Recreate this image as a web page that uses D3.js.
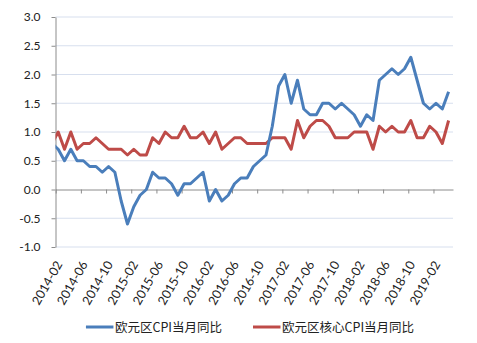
<!DOCTYPE html>
<html>
<head>
<meta charset="utf-8">
<script src="https://cdn.jsdelivr.net/npm/d3@7"></script>
<style>
  html, body { margin: 0; padding: 0; background: #fff; }
  svg { display: block; }
</style>
</head>
<body>
<script>
// Monthly categories, 2014-01 .. 2019-04
const months = [
  "2014-01","2014-02","2014-03","2014-04","2014-05","2014-06","2014-07","2014-08","2014-09","2014-10","2014-11","2014-12",
  "2015-01","2015-02","2015-03","2015-04","2015-05","2015-06","2015-07","2015-08","2015-09","2015-10","2015-11","2015-12",
  "2016-01","2016-02","2016-03","2016-04","2016-05","2016-06","2016-07","2016-08","2016-09","2016-10","2016-11","2016-12",
  "2017-01","2017-02","2017-03","2017-04","2017-05","2017-06","2017-07","2017-08","2017-09","2017-10","2017-11","2017-12",
  "2018-01","2018-02","2018-03","2018-04","2018-05","2018-06","2018-07","2018-08","2018-09","2018-10","2018-11","2018-12",
  "2019-01","2019-02","2019-03","2019-04"
];

// Euro area HICP, y/y %
const cpi = [
  0.8, 0.7, 0.5, 0.7, 0.5, 0.5, 0.4, 0.4, 0.3, 0.4, 0.3, -0.2,
  -0.6, -0.3, -0.1, 0.0, 0.3, 0.2, 0.2, 0.1, -0.1, 0.1, 0.1, 0.2,
  0.3, -0.2, 0.0, -0.2, -0.1, 0.1, 0.2, 0.2, 0.4, 0.5, 0.6, 1.1,
  1.8, 2.0, 1.5, 1.9, 1.4, 1.3, 1.3, 1.5, 1.5, 1.4, 1.5, 1.4,
  1.3, 1.1, 1.3, 1.2, 1.9, 2.0, 2.1, 2.0, 2.1, 2.3, 1.9, 1.5,
  1.4, 1.5, 1.4, 1.7
];

// Euro area core HICP, y/y %
const coreCpi = [
  0.8, 1.0, 0.7, 1.0, 0.7, 0.8, 0.8, 0.9, 0.8, 0.7, 0.7, 0.7,
  0.6, 0.7, 0.6, 0.6, 0.9, 0.8, 1.0, 0.9, 0.9, 1.1, 0.9, 0.9,
  1.0, 0.8, 1.0, 0.7, 0.8, 0.9, 0.9, 0.8, 0.8, 0.8, 0.8, 0.9,
  0.9, 0.9, 0.7, 1.2, 0.9, 1.1, 1.2, 1.2, 1.1, 0.9, 0.9, 0.9,
  1.0, 1.0, 1.0, 0.7, 1.1, 1.0, 1.1, 1.0, 1.0, 1.2, 0.9, 0.9,
  1.1, 1.0, 0.8, 1.2
];

const yTicks = [-1.0, -0.5, 0.0, 0.5, 1.0, 1.5, 2.0, 2.5, 3.0];
const xTickLabels = [
  "2014-02","2014-06","2014-10","2015-02","2015-06","2015-10","2016-02","2016-06",
  "2016-10","2017-02","2017-06","2017-10","2018-02","2018-06","2018-10","2019-02"
];
const seriesNames = ["欧元区CPI当月同比", "欧元区核心CPI当月同比"];
const seriesColors = ["#4A7EBB", "#BE4B48"];

const W = 477, H = 343;
const plot = { left: 55.5, right: 453, top: 17, bottom: 247 };

// Month-index axis: it opens a little after the first month and ends a little after the last
const axisStart = 0.57, axisEnd = 63.7;
const x = d3.scaleLinear().domain([axisStart, axisEnd]).range([plot.left, plot.right]);
const y = d3.scaleLinear().domain([-1, 3]).range([plot.bottom, plot.top]);

const svg = d3.select("body").append("svg")
  .attr("width", W).attr("height", H)
  .attr("font-family", "Lato, 'Noto Sans CJK SC', sans-serif");

svg.append("defs").append("clipPath").attr("id", "plot-clip")
  .append("rect")
  .attr("x", plot.left).attr("y", plot.top - 5)
  .attr("width", plot.right - plot.left).attr("height", plot.bottom - plot.top + 10);

// horizontal gridlines
svg.append("g").selectAll("line")
  .data(yTicks.filter(d => d !== 0))
  .join("line")
  .attr("x1", plot.left).attr("x2", plot.right)
  .attr("y1", d => y(d)).attr("y2", d => y(d))
  .attr("stroke", "#D7DFEE").attr("stroke-width", 1);

// value axis
const yAxis = svg.append("g")
  .attr("transform", `translate(${plot.left},0)`)
  .call(d3.axisLeft(y).tickValues(yTicks).tickSize(4).tickSizeOuter(0).tickPadding(11)
    .tickFormat(d => d.toFixed(1)));
yAxis.select(".domain").attr("stroke", "#8C8C8C");
yAxis.selectAll(".tick line").attr("stroke", "#8C8C8C");
yAxis.selectAll("text").attr("font-size", 12).attr("fill", "#222")
  .attr("font-family", "Lato, sans-serif");

// category axis along zero, tick marks sit slightly ahead of each labelled month
const labelIdx = xTickLabels.map(l => months.indexOf(l));
const xAxis = svg.append("g")
  .attr("transform", `translate(0,${y(0)})`)
  .call(d3.axisBottom(x).tickValues(labelIdx.map(i => i - 0.4)).tickSize(4).tickSizeOuter(0)
    .tickFormat(""));
xAxis.select(".domain").attr("stroke", "#8C8C8C");
xAxis.selectAll(".tick line").attr("stroke", "#8C8C8C");

// rotated month labels below the plot
svg.append("g").selectAll("text")
  .data(labelIdx)
  .join("text")
  .attr("transform", i => `translate(${x(i) + 1},${plot.bottom + 15}) rotate(-60)`)
  .attr("text-anchor", "end")
  .attr("dy", "0.35em")
  .attr("font-size", 12.5)
  .attr("fill", "#222")
  .text(i => months[i]);

// series lines
const series = [cpi, coreCpi];
const line = d3.line().x((d, i) => x(i)).y(d => y(d));
const lines = svg.append("g").attr("clip-path", "url(#plot-clip)");
// core drawn first, headline on top
[1, 0].forEach(k => {
  lines.append("path")
    .datum(series[k])
    .attr("d", line)
    .attr("fill", "none")
    .attr("stroke", seriesColors[k])
    .attr("stroke-width", 3)
    .attr("stroke-linejoin", "round");
});

// legend
const legend = svg.append("g").attr("transform", `translate(0,327)`);
const items = legend.selectAll("g").data(seriesNames).join("g");
items.append("line")
  .attr("x1", 0).attr("x2", 27.5)
  .attr("stroke", (d, i) => seriesColors[i]).attr("stroke-width", 3);
items.append("text")
  .attr("x", 29).attr("dy", "0.36em")
  .attr("font-size", 12.5).attr("fill", "#222")
  .attr("font-family", "'Liberation Sans Narrow', 'Noto Sans CJK SC', sans-serif")
  .text(d => d);
const widths = [];
items.each(function () {
  widths.push(29 + this.querySelector("text").getComputedTextLength());
});
const gap = 31;
const total = d3.sum(widths) + gap * (widths.length - 1);
let cx = 250 - total / 2;
items.attr("transform", (d, i) => {
  const tx = cx;
  cx += widths[i] + gap;
  return `translate(${tx},0)`;
});
</script>
</body>
</html>
